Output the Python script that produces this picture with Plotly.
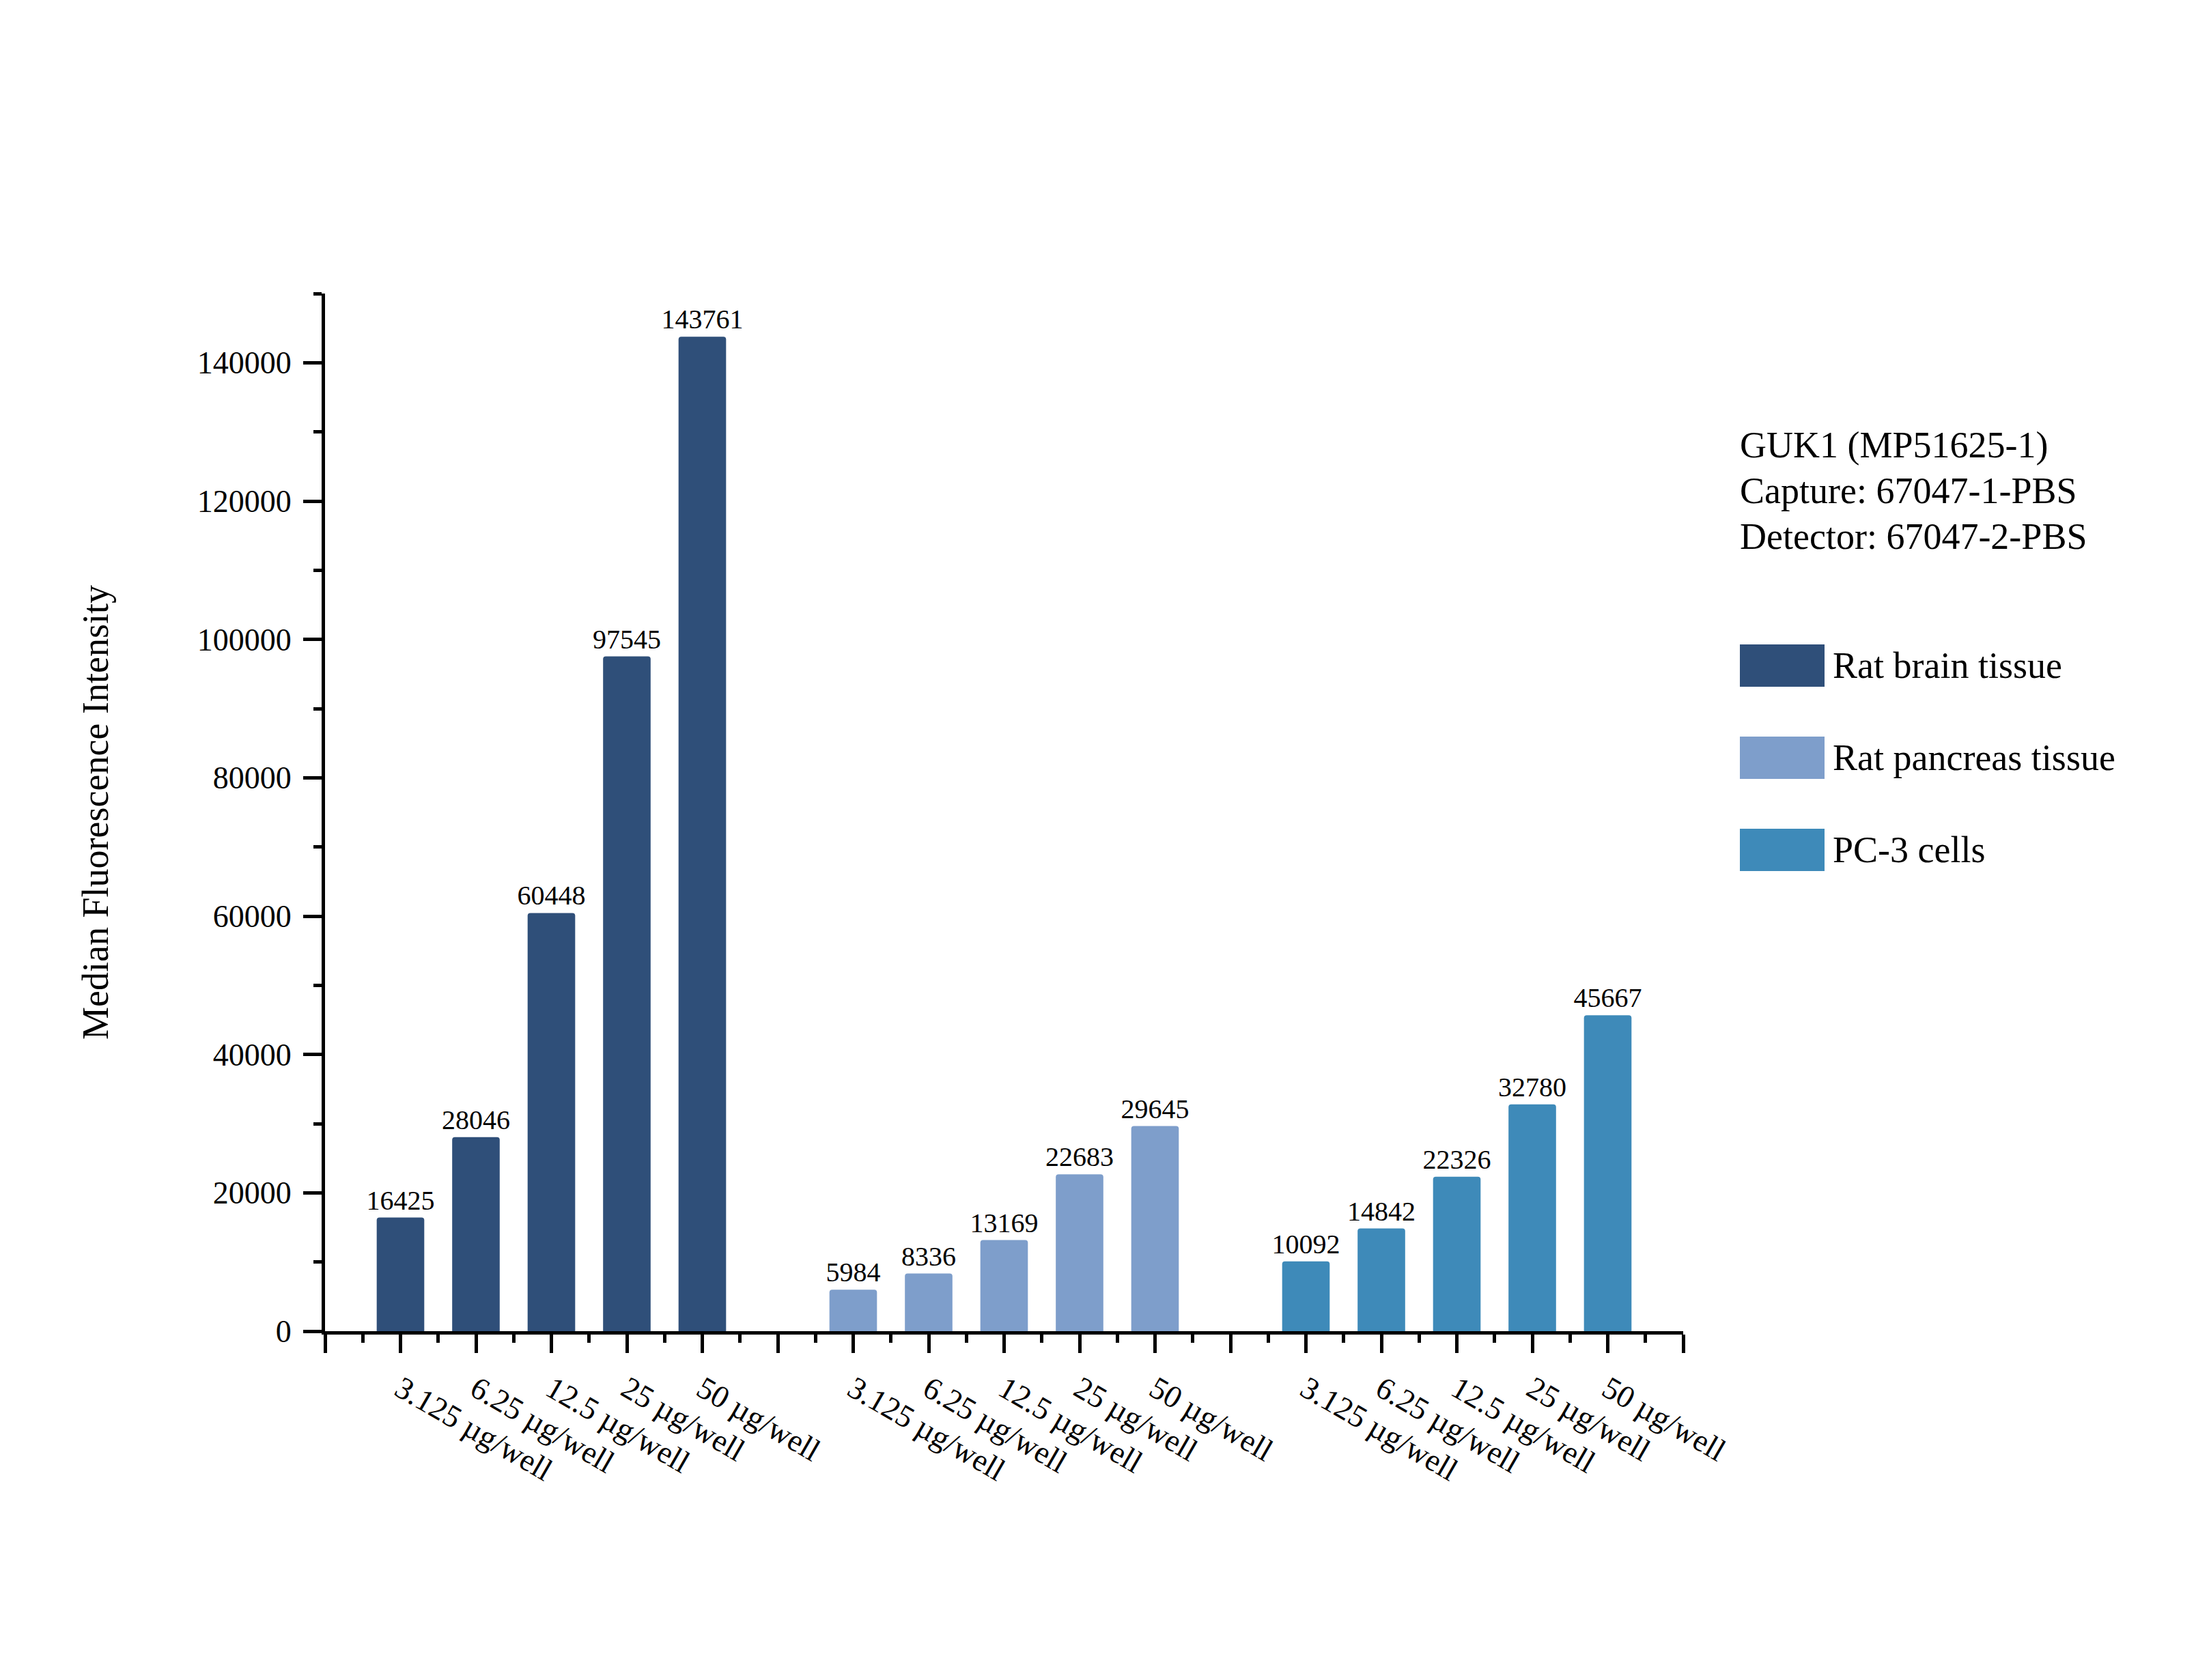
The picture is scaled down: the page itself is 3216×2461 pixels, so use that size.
import plotly.graph_objects as go

# ---------------- data ----------------
concentrations = ["3.125 µg/well", "6.25 µg/well", "12.5 µg/well", "25 µg/well", "50 µg/well"]
series_names = ["Rat brain tissue", "Rat pancreas tissue", "PC-3 cells"]
rat_brain = [16425, 28046, 60448, 97545, 143761]
rat_pancreas = [5984, 8336, 13169, 22683, 29645]
pc3_cells = [10092, 14842, 22326, 32780, 45667]
series_colors = ["#2F4F79", "#7E9ECB", "#3E8AB9"]
info_lines = ["GUK1 (MP51625-1)", "Capture: 67047-1-PBS", "Detector: 67047-2-PBS"]
y_title = "Median Fluorescence Intensity"
y_ticks = [0, 20000, 40000, 60000, 80000, 100000, 120000, 140000]

FONT = "Liberation Serif"
W, H = 3216, 2461
L, R, T, B = 476, 2465, 430, 1950  # plot area in page pixels
OFF = 8  # default page body margin

n = len(concentrations)
group_step = n + 1
all_series = [rat_brain, rat_pancreas, pc3_cells]

fig = go.Figure()
for g, (name, vals, col) in enumerate(zip(series_names, all_series, series_colors)):
    xs = [g * group_step + i + 1 for i in range(n)]
    fig.add_trace(go.Bar(
        x=xs, y=vals, name=name, width=0.63,
        marker=dict(color=col, line=dict(width=0), cornerradius=4),
        text=[str(v) for v in vals], textposition="outside",
        textfont=dict(family=FONT, size=40, color="black"),
        constraintext="none",
        cliponaxis=False, showlegend=False,
    ))

n_pos = group_step * len(series_names)
tickvals = list(range(0, n_pos + 1))
ticktext = []
for p in tickvals:
    g, r = divmod(p - 1, group_step)
    if p >= 1 and r < n and g < len(series_names):
        ticktext.append(concentrations[r])
    else:
        ticktext.append("")

fig.update_layout(
    width=W, height=H,
    margin=dict(l=L - OFF, r=W - (R - OFF), t=T - OFF, b=H - (B - OFF), pad=0),
    paper_bgcolor="white", plot_bgcolor="white",
    barmode="overlay",
    font=dict(family=FONT, color="black"),
    xaxis=dict(
        range=[0, n_pos], tickmode="array", tickvals=tickvals, ticktext=ticktext,
        tickangle=30, tickfont=dict(family=FONT, size=46, color="black"),
        ticks="outside", ticklen=27, tickwidth=5, tickcolor="black",
        showline=True, linewidth=5, linecolor="black",
        showgrid=False, zeroline=False, ticklabelstandoff=8,
        minor=dict(ticks="outside", ticklen=12, tickwidth=5, tickcolor="black",
                   tick0=0, dtick=0.5, showgrid=False),
    ),
    yaxis=dict(
        range=[0, 150000], tickmode="array", tickvals=y_ticks,
        ticktext=[str(v) for v in y_ticks],
        tickfont=dict(family=FONT, size=46, color="black"),
        ticks="outside", ticklen=27, tickwidth=5, tickcolor="black",
        showline=True, linewidth=5, linecolor="black",
        showgrid=False, zeroline=False, ticklabelstandoff=8,
        minor=dict(ticks="outside", ticklen=12, tickwidth=5, tickcolor="black",
                   tick0=0, dtick=10000, showgrid=False),
        title=dict(text=y_title, font=dict(family=FONT, size=54, color="black"), standoff=114),
    ),
)

def px(x):
    return (x - L) / (R - L)

def py(y):
    return (B - y) / (B - T)

# info text block
for k, line in enumerate(info_lines):
    fig.add_annotation(
        x=px(2546), y=py(652 + 67 * k), xref="paper", yref="paper",
        text=line, showarrow=False, xanchor="left", yanchor="middle",
        font=dict(family=FONT, size=54, color="black"),
    )

# custom legend
for k, (name, col) in enumerate(zip(series_names, series_colors)):
    top = 944 + 135 * k
    fig.add_shape(
        type="rect", xref="paper", yref="paper",
        x0=px(2548), x1=px(2672), y0=py(top), y1=py(top + 62),
        fillcolor=col, line=dict(width=0),
    )
    fig.add_annotation(
        x=px(2682), y=py(top + 31), xref="paper", yref="paper",
        text=name, showarrow=False, xanchor="left", yanchor="middle",
        font=dict(family=FONT, size=54, color="black"),
    )

fig.write_html("out.html")
